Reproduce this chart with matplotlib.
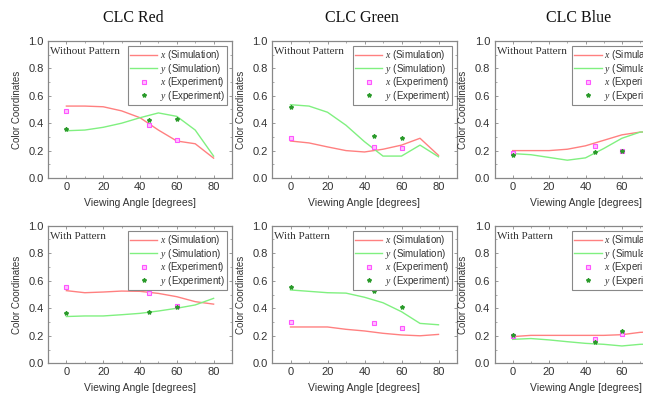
import matplotlib
matplotlib.use("Agg")
import matplotlib.pyplot as plt
from matplotlib.patches import Rectangle
from matplotlib.ticker import MultipleLocator

plt.rcParams['font.family'] = ['Liberation Sans', 'DejaVu Sans']
plt.rcParams['mathtext.fontset'] = 'custom'
plt.rcParams['mathtext.it'] = 'Liberation Serif:italic'
plt.rcParams['mathtext.rm'] = 'Liberation Serif'

angles = [0, 10, 20, 30, 40, 50, 60, 70, 80]
exp_angles = [0, 45, 60]

titles = ["CLC Red", "CLC Green", "CLC Blue"]
row_labels = ["Without Pattern", "With Pattern"]

# Without pattern (top row)
red_wo_xsim = [0.525, 0.525, 0.52, 0.49, 0.44, 0.35, 0.27, 0.25, 0.145]
red_wo_ysim = [0.345, 0.35, 0.37, 0.40, 0.44, 0.475, 0.45, 0.35, 0.16]
red_wo_xexp = [0.49, 0.39, 0.28]
red_wo_yexp = [0.355, 0.42, 0.43]

green_wo_xsim = [0.27, 0.256, 0.227, 0.20, 0.19, 0.21, 0.24, 0.29, 0.165]
green_wo_ysim = [0.535, 0.525, 0.48, 0.385, 0.265, 0.16, 0.16, 0.24, 0.155]
green_wo_xexp = [0.29, 0.225, 0.22]
green_wo_yexp = [0.52, 0.305, 0.29]

blue_wo_xsim = [0.20, 0.20, 0.20, 0.21, 0.235, 0.275, 0.315, 0.335, 0.34]
blue_wo_ysim = [0.178, 0.17, 0.15, 0.13, 0.147, 0.215, 0.29, 0.335, 0.34]
blue_wo_xexp = [0.18, 0.235, 0.20]
blue_wo_yexp = [0.17, 0.19, 0.20]

# With pattern (bottom row)
red_w_xsim = [0.528, 0.513, 0.518, 0.525, 0.523, 0.508, 0.484, 0.448, 0.43]
red_w_ysim = [0.34, 0.344, 0.344, 0.353, 0.363, 0.38, 0.40, 0.424, 0.472]
red_w_xexp = [0.557, 0.508, 0.42]
red_w_yexp = [0.368, 0.373, 0.41]

green_w_xsim = [0.264, 0.264, 0.264, 0.247, 0.235, 0.218, 0.206, 0.20, 0.21]
green_w_ysim = [0.533, 0.523, 0.513, 0.51, 0.48, 0.44, 0.375, 0.29, 0.28]
green_w_xexp = [0.303, 0.293, 0.257]
green_w_yexp = [0.557, 0.523, 0.407]

blue_w_xsim = [0.194, 0.203, 0.203, 0.203, 0.203, 0.203, 0.208, 0.225, 0.23]
blue_w_ysim = [0.174, 0.18, 0.17, 0.157, 0.145, 0.138, 0.126, 0.138, 0.14]
blue_w_xexp = [0.20, 0.177, 0.21]
blue_w_yexp = [0.205, 0.157, 0.235]

data = [
    [(red_wo_xsim, red_wo_ysim, red_wo_xexp, red_wo_yexp),
     (green_wo_xsim, green_wo_ysim, green_wo_xexp, green_wo_yexp),
     (blue_wo_xsim, blue_wo_ysim, blue_wo_xexp, blue_wo_yexp)],
    [(red_w_xsim, red_w_ysim, red_w_xexp, red_w_yexp),
     (green_w_xsim, green_w_ysim, green_w_xexp, green_w_yexp),
     (blue_w_xsim, blue_w_ysim, blue_w_xexp, blue_w_yexp)],
]

W, H = 657, 396
fig = plt.figure(figsize=(W / 100, H / 100), dpi=100)

col_lr = [(48, 232), (272, 457), (494.5, 676.5)]
row_tb = [(41, 178), (225.7, 363.3)]
title_x = [133, 362, 579]

gray = "#888888"
txtc = "#333333"

for r in range(2):
    for c in range(3):
        l, rr = col_lr[c]
        t, b = row_tb[r]
        ax = fig.add_axes([l / W, 1 - b / H, (rr - l) / W, (b - t) / H])
        xs, ys, xe, ye = data[r][c]
        ax.plot(angles, xs, color="#ff8080", lw=1.0, label=r"$x$ (Simulation)")
        ax.plot(angles, ys, color="#80f080", lw=1.0, label=r"$y$ (Simulation)")
        ax.plot(exp_angles, xe, ls="none", marker="s", ms=3.0, mfc="#ffc0ff",
                mec="#ff55ff", mew=0.8, label=r"$x$ (Experiment)")
        ax.plot(exp_angles, ye, ls="none", marker="*", ms=3.0, color="#2a9a2a",
                label=r"$y$ (Experiment)")
        ax.set_xlim(-10, 90)
        ax.set_ylim(0, 1)
        ax.set_xticks([0, 20, 40, 60, 80])
        ax.set_yticks([0, 0.2, 0.4, 0.6, 0.8, 1.0])
        ax.set_yticklabels(["0.0", "0.2", "0.4", "0.6", "0.8", "1.0"])
        ax.xaxis.set_minor_locator(MultipleLocator(10))
        ax.yaxis.set_minor_locator(MultipleLocator(0.1))
        ax.tick_params(which="both", direction="in", top=True, right=True,
                       color=gray, labelsize=8, labelcolor=txtc, pad=3)
        ax.tick_params(which="major", length=2.5, width=0.6)
        ax.tick_params(which="minor", length=1.5, width=0.5)
        for s in ax.spines.values():
            s.set_color(gray)
            s.set_linewidth(0.9)
        ax.set_ylabel("Color Coordinates", fontsize=7, color=txtc, labelpad=5)
        ax.set_xlabel("Viewing Angle [degrees]", fontsize=7.5, color=txtc, labelpad=4)
        ax.text(0.012, 0.955, row_labels[r], transform=ax.transAxes,
                family="Liberation Serif", fontsize=8, color=txtc,
                ha="left", va="top")
        leg = ax.legend(loc="upper right", fontsize=7.0, frameon=True,
                        fancybox=False, edgecolor=gray, borderaxespad=0.5,
                        handlelength=2.8, handletextpad=0.25, labelspacing=-0.05,
                        borderpad=0.25, framealpha=1)
        leg.get_frame().set_linewidth(0.8)
        for tx in leg.get_texts():
            tx.set_color(txtc)
        if r == 0:
            fig.text(title_x[c] / W, 1 - 18 / H, titles[c],
                     family="Liberation Serif", fontsize=11.5, color="#111111",
                     ha="center", va="center")

# the original picture is cropped on the right side
fig.patches.append(Rectangle((643 / W, 0), 1, 1, transform=fig.transFigure,
                             facecolor="white", edgecolor="none", zorder=100))

fig.savefig("out.png", dpi=100)
